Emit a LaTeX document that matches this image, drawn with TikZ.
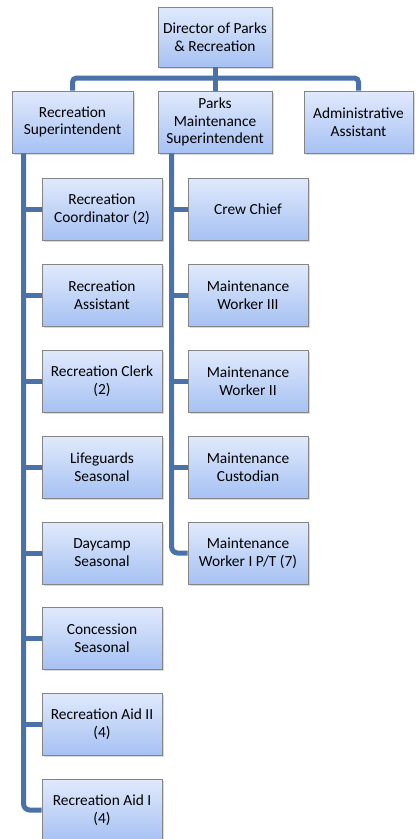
\documentclass[tikz,border=0pt]{standalone}
\usepackage{fontspec}
\setmainfont{Carlito}
\usetikzlibrary{shadows}

\definecolor{busblue}{HTML}{4A72A8}
\definecolor{boxtop}{HTML}{E1EAFC}
\definecolor{boxbot}{HTML}{A6C1F3}
\definecolor{boxline}{HTML}{858585}

\begin{document}
\begin{tikzpicture}[x=1pt, y=-1pt,
    post/.style={draw=boxline, line width=0.8pt, top color=boxtop, bottom color=boxbot,
      minimum width=120pt, minimum height=62pt, align=center, inner sep=2pt,
      font=\fontsize{15.4}{17.8}\selectfont,
      drop shadow={opacity=0.3, shadow xshift=1.5pt, shadow yshift=-1.5pt}},
    bus/.style={draw=busblue, line width=5pt}]
  \useasboundingbox (0,0) rectangle (416,839);

  % top row
  \node[post, minimum width=114pt, minimum height=60pt] (dir) at (215,37) {Director of Parks\\\& Recreation};
  \node[post, minimum width=121pt] (rec) at (72.5,122) {Recreation\\Superintendent};
  \node[post, minimum width=114pt] (parks) at (215,122) {Parks\\Maintenance\\Superintendent};
  \node[post, minimum width=109pt] (admin) at (358.5,122) {Administrative\\Assistant};

  % recreation side
  \node[post] (coord) at (102,209) {Recreation\\Coordinator (2)};
  \node[post] (asst) at (102,295) {Recreation\\Assistant};
  \node[post] (clerk) at (102,381) {Recreation Clerk\\(2)};
  \node[post] (guard) at (102,467) {Lifeguards\\Seasonal};
  \node[post] (camp) at (102,553) {Daycamp\\Seasonal};
  \node[post] (conc) at (102,638) {Concession\\Seasonal};
  \node[post] (aidtwo) at (102,724) {Recreation Aid II\\(4)};
  \node[post] (aidone) at (102,810) {Recreation Aid I\\(4)};

  % maintenance side
  \node[post] (crew) at (248,209) {Crew Chief};
  \node[post] (wthree) at (248,295) {Maintenance\\Worker III};
  \node[post] (wtwo) at (248,381) {Maintenance\\Worker II};
  \node[post] (cust) at (248,467) {Maintenance\\Custodian};
  \node[post] (wone) at (248,553) {Maintenance\\Worker I P/T (7)};

  % connectors
  \coordinate (top) at (215,78);
  \coordinate (ltrunk) at ([xshift=12pt]rec.south west);
  \coordinate (rtrunk) at ([xshift=14pt]parks.south west);
  \draw[bus] (dir.south) -- (parks.north);
  \draw[bus, rounded corners=4pt] (rec.north) |- (top) -| (admin.north);
  \draw[bus, rounded corners=6pt] (ltrunk) |- (aidone.west);
  \draw[bus, rounded corners=6pt] (rtrunk) |- (wone.west);
  \foreach \n in {coord,asst,clerk,guard,camp,conc,aidtwo}
    \draw[bus] (\n.west) -- (\n.west -| ltrunk);
  \foreach \n in {crew,wthree,wtwo,cust}
    \draw[bus] (\n.west) -- (\n.west -| rtrunk);
\end{tikzpicture}
\end{document}
